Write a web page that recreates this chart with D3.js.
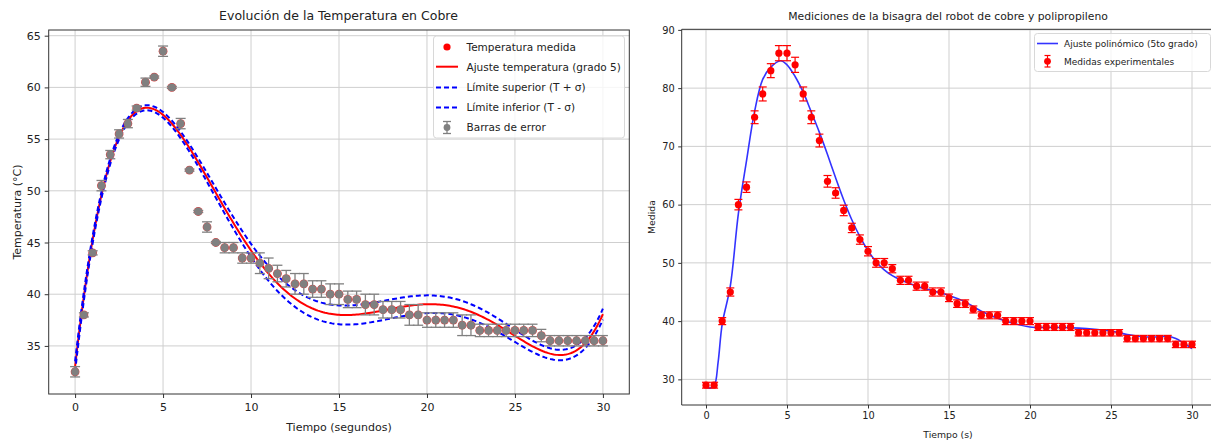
<!DOCTYPE html>
<html><head><meta charset="utf-8">
<script src="https://cdn.jsdelivr.net/npm/d3@7"></script>
<style>body{margin:0;background:#fff}svg{display:block}text{font-family:"DejaVu Sans",sans-serif;fill:#222}</style>
</head><body><svg id="c" width="1211" height="443"></svg>
<script>
// ---------- Left chart data ----------
const tempTime = [0,0.5,1,1.5,2,2.5,3,3.5,4,4.5,5,5.5,6,6.5,7,7.5,8,8.5,9,9.5,10,10.5,11,11.5,12,12.5,13,13.5,14,14.5,15,15.5,16,16.5,17,17.5,18,18.5,19,19.5,20,20.5,21,21.5,22,22.5,23,23.5,24,24.5,25,25.5,26,26.5,27,27.5,28,28.5,29,29.5,30];
const tempValues = [32.5,38,44,50.5,53.5,55.5,56.5,58,60.5,61,63.5,60,56.5,52,48,46.5,45,44.5,44.5,43.5,43.5,43,42.5,42,41.5,41,41,40.5,40.5,40,40,39.5,39.5,39,39,38.5,38.5,38.5,38,38,37.5,37.5,37.5,37.5,37,37,36.5,36.5,36.5,36.5,36.5,36.5,36.5,36,35.5,35.5,35.5,35.5,35.5,35.5,35.5];
const tempErrors = [0.5,0.2,0.2,0.5,0.4,0.4,0.4,0.2,0.4,0.1,0.5,0.1,0.5,0.1,0.1,0.5,0.1,0.5,0.5,0.5,0.5,1,1,0.8,0.8,1,1,0.8,0.8,1,1,0.8,0.8,1,1,0.8,0.8,0.8,1,1,0.7,0.7,0.7,0.7,1,1,0.6,0.6,0.6,0.6,0.6,0.6,0.6,0.6,0.5,0.5,0.5,0.5,0.5,0.5,0.5];
const leftXTicks = [0,5,10,15,20,25,30];
const leftYTicks = [35,40,45,50,55,60,65];

// ---------- Right chart data ----------
const hingeTime = [0,0.5,1,1.5,2,2.5,3,3.5,4,4.5,5,5.5,6,6.5,7,7.5,8,8.5,9,9.5,10,10.5,11,11.5,12,12.5,13,13.5,14,14.5,15,15.5,16,16.5,17,17.5,18,18.5,19,19.5,20,20.5,21,21.5,22,22.5,23,23.5,24,24.5,25,25.5,26,26.5,27,27.5,28,28.5,29,29.5,30];
const hingeValues = [29,29,40,45,60,63,75,79,83,86,86,84,79,75,71,64,62,59,56,54,52,50,50,49,47,47,46,46,45,45,44,43,43,42,41,41,41,40,40,40,40,39,39,39,39,39,38,38,38,38,38,38,37,37,37,37,37,37,36,36,36];
const hingeErrors = [0.5,0.5,0.6,0.7,0.9,0.9,1.1,1.2,1.2,1.3,1.3,1.3,1.2,1.1,1.1,1.0,0.9,0.9,0.8,0.8,0.8,0.75,0.75,0.7,0.7,0.7,0.7,0.7,0.7,0.7,0.65,0.65,0.65,0.6,0.6,0.6,0.6,0.6,0.6,0.6,0.6,0.6,0.6,0.6,0.6,0.6,0.55,0.55,0.55,0.55,0.55,0.55,0.55,0.55,0.55,0.55,0.55,0.55,0.55,0.55,0.55];
const hingeFitTime = [0,0.25,0.5,0.75,1,1.5,2,2.5,3,3.5,4,4.6,5,5.5,6,6.5,7,7.5,8,8.5,9,9.5,10,10.5,11,11.5,12,13,14,15,16,17,18,19,20,21,22,23,24,25,26,27,28,28.5,29,29.5,30];
const hingeFitValues = [28.7,28.5,28.8,33,39.5,46,58.5,67.5,76,81.5,83.6,84.7,84,82,79.3,75.9,72.4,68.6,64.6,60.8,57.4,54.5,52.1,50.2,48.8,47.8,47.1,46.0,45.2,44.4,43.3,41.7,40.5,39.6,39.0,38.9,38.9,38.8,38.6,38.3,37.7,37.3,37.3,37.4,37.0,36.2,35.3];
const rightXTicks = [0,5,10,15,20,25,30];
const rightYTicks = [30,40,50,60,70,80,90];

const svg = d3.select("#c");
const gridColor = "#cfcfcf", spineColor = "#333";

// polynomial least-squares fit (degree n) on scaled abscissa
function polyfit(xs, ys, n){
  const u = xs.map(x => (x-15)/15), m = n+1;
  const A = Array.from({length:m},()=>new Array(m).fill(0)), b = new Array(m).fill(0);
  u.forEach((ui,k)=>{ for(let i=0;i<m;i++){ b[i]+=Math.pow(ui,i)*ys[k]; for(let j=0;j<m;j++) A[i][j]+=Math.pow(ui,i+j);} });
  for(let c=0;c<m;c++){ let p=c; for(let r=c+1;r<m;r++) if(Math.abs(A[r][c])>Math.abs(A[p][c])) p=r;
    [A[c],A[p]]=[A[p],A[c]]; [b[c],b[p]]=[b[p],b[c]];
    for(let r=c+1;r<m;r++){ const f=A[r][c]/A[c][c]; for(let j=c;j<m;j++) A[r][j]-=f*A[c][j]; b[r]-=f*b[c]; } }
  const coef=new Array(m).fill(0);
  for(let i=m-1;i>=0;i--){ let s=b[i]; for(let j=i+1;j<m;j++) s-=A[i][j]*coef[j]; coef[i]=s/A[i][i]; }
  return x => { const v=(x-15)/15; return coef.reduce((s,c,i)=>s+c*Math.pow(v,i),0); };
}

// ================= LEFT CHART =================
(function(){
  const L=48.7, R=629.3, T=30, B=394;
  const x = d3.scaleLinear().domain([-1.5,31.5]).range([L,R]);
  const y = d3.scaleLinear().domain([30.35,65.55]).range([B,T]);
  const g = svg.append("g");
  g.selectAll(".gx").data(leftXTicks).join("line").attr("x1",d=>x(d)).attr("x2",d=>x(d)).attr("y1",T).attr("y2",B).attr("stroke",gridColor).attr("stroke-width",1);
  g.selectAll(".gy").data(leftYTicks).join("line").attr("x1",L).attr("x2",R).attr("y1",d=>y(d)).attr("y2",d=>y(d)).attr("stroke",gridColor).attr("stroke-width",1);
  const ax = g.append("g").attr("transform",`translate(0,${B})`).call(d3.axisBottom(x).tickValues(leftXTicks).tickSize(4).tickPadding(5));
  const ay = g.append("g").attr("transform",`translate(${L},0)`).call(d3.axisLeft(y).tickValues(leftYTicks).tickSize(4).tickPadding(4));
  [ax,ay].forEach(a=>{a.select(".domain").remove(); a.selectAll("line").attr("stroke",spineColor); a.selectAll("text").attr("font-size",11).attr("fill","#222").style("font-family","DejaVu Sans");});
  const fMid = polyfit(tempTime,tempValues,5);
  const fUp = polyfit(tempTime,tempValues.map((v,i)=>v+tempErrors[i]),5);
  const fLo = polyfit(tempTime,tempValues.map((v,i)=>v-tempErrors[i]),5);
  const ts = d3.range(0,30.001,0.1);
  const line = f => d3.line().x(t=>x(t)).y(t=>y(f(t)))(ts);
  g.append("path").attr("d",line(fMid)).attr("fill","none").attr("stroke","#ff0000").attr("stroke-width",2);
  g.append("path").attr("d",line(fUp)).attr("fill","none").attr("stroke","#0000ff").attr("stroke-width",2).attr("stroke-dasharray","5,3");
  g.append("path").attr("d",line(fLo)).attr("fill","none").attr("stroke","#0000ff").attr("stroke-width",2).attr("stroke-dasharray","5,3");
  const pts = tempTime.map((t,i)=>({t,v:tempValues[i],e:tempErrors[i]}));
  g.selectAll(".rp").data(pts).join("circle").attr("cx",d=>x(d.t)).attr("cy",d=>y(d.v)).attr("r",4.4).attr("fill","#e04040");
  const eb = g.append("g").attr("stroke","#808080").attr("stroke-width",1.3);
  eb.selectAll(".v").data(pts).join("line").attr("x1",d=>x(d.t)).attr("x2",d=>x(d.t)).attr("y1",d=>y(d.v-d.e)).attr("y2",d=>y(d.v+d.e));
  eb.selectAll(".c1").data(pts).join("line").attr("x1",d=>x(d.t)-5).attr("x2",d=>x(d.t)+5).attr("y1",d=>y(d.v+d.e)).attr("y2",d=>y(d.v+d.e));
  eb.selectAll(".c2").data(pts).join("line").attr("x1",d=>x(d.t)-5).attr("x2",d=>x(d.t)+5).attr("y1",d=>y(d.v-d.e)).attr("y2",d=>y(d.v-d.e));
  g.selectAll(".gp").data(pts).join("circle").attr("cx",d=>x(d.t)).attr("cy",d=>y(d.v)).attr("r",3.9).attr("fill","#808080");
  g.append("rect").attr("x",L).attr("y",T).attr("width",R-L).attr("height",B-T).attr("fill","none").attr("stroke",spineColor).attr("stroke-width",1);
  const lg = g.append("g");
  lg.append("rect").attr("x",433.5).attr("y",36).attr("width",191).attr("height",102).attr("rx",3).attr("fill","#fff").attr("fill-opacity",0.8).attr("stroke","#d8d8d8");
  const items = ["Temperatura medida","Ajuste temperatura (grado 5)","Límite superior (T + σ)","Límite inferior (T - σ)","Barras de error"];
  const ly = [47,66.7,87.5,107.5,127.5];
  items.forEach((s,i)=>lg.append("text").attr("x",466.5).attr("y",ly[i]+3.8).attr("font-size",10.5).text(s));
  lg.append("circle").attr("cx",447).attr("cy",ly[0]).attr("r",3.6).attr("fill","#ff0000");
  lg.append("line").attr("x1",436).attr("x2",458).attr("y1",ly[1]).attr("y2",ly[1]).attr("stroke","#ff0000").attr("stroke-width",2);
  [2,3].forEach(i=>lg.append("line").attr("x1",436).attr("x2",458).attr("y1",ly[i]).attr("y2",ly[i]).attr("stroke","#0000ff").attr("stroke-width",2).attr("stroke-dasharray","5,3"));
  const eg = lg.append("g").attr("stroke","#808080").attr("stroke-width",1.3);
  eg.append("line").attr("x1",447).attr("x2",447).attr("y1",ly[4]-6).attr("y2",ly[4]+6);
  eg.append("line").attr("x1",443).attr("x2",451).attr("y1",ly[4]-6).attr("y2",ly[4]-6);
  eg.append("line").attr("x1",443).attr("x2",451).attr("y1",ly[4]+6).attr("y2",ly[4]+6);
  lg.append("circle").attr("cx",447).attr("cy",ly[4]).attr("r",3.4).attr("fill","#808080");
  g.append("text").attr("x",338.5).attr("y",20).attr("text-anchor","middle").attr("font-size",12.5).text("Evolución de la Temperatura en Cobre");
  g.append("text").attr("x",339).attr("y",431).attr("text-anchor","middle").attr("font-size",11).text("Tiempo (segundos)");
  g.append("text").attr("transform","translate(21,212) rotate(-90)").attr("text-anchor","middle").attr("font-size",11).text("Temperatura (°C)");
})();

// ================= RIGHT CHART =================
(function(){
  const L=681.7, R=1216.3, T=29.3, B=405;
  const x = d3.scaleLinear().domain([-1.5,31.5]).range([L,R]);
  const y = d3.scaleLinear().domain([25.6,90.1]).range([B,T]);
  const g = svg.append("g");
  g.selectAll(".gx").data(rightXTicks).join("line").attr("x1",d=>x(d)).attr("x2",d=>x(d)).attr("y1",T).attr("y2",B).attr("stroke",gridColor).attr("stroke-width",1);
  g.selectAll(".gy").data(rightYTicks).join("line").attr("x1",L).attr("x2",R).attr("y1",d=>y(d)).attr("y2",d=>y(d)).attr("stroke",gridColor).attr("stroke-width",1);
  const ax = g.append("g").attr("transform",`translate(0,${B})`).call(d3.axisBottom(x).tickValues(rightXTicks).tickSize(3.5).tickPadding(4));
  const ay = g.append("g").attr("transform",`translate(${L},0)`).call(d3.axisLeft(y).tickValues(rightYTicks).tickSize(3.5).tickPadding(3.5));
  [ax,ay].forEach(a=>{a.select(".domain").remove(); a.selectAll("line").attr("stroke",spineColor); a.selectAll("text").attr("font-size",9.8).attr("fill","#222").style("font-family","DejaVu Sans");});
  const fitPts = hingeFitTime.map((t,i)=>[t,hingeFitValues[i]]);
  g.append("path").attr("d",d3.line().x(d=>x(d[0])).y(d=>y(d[1])).curve(d3.curveCatmullRom.alpha(0.5))(fitPts))
    .attr("fill","none").attr("stroke","#3333ff").attr("stroke-width",1.6);
  const pts = hingeTime.map((t,i)=>({t,v:hingeValues[i],e:hingeErrors[i]}));
  const eb = g.append("g").attr("stroke","#ff0000").attr("stroke-width",1.2);
  eb.selectAll(".v").data(pts).join("line").attr("x1",d=>x(d.t)).attr("x2",d=>x(d.t)).attr("y1",d=>y(d.v-d.e)).attr("y2",d=>y(d.v+d.e));
  eb.selectAll(".c1").data(pts).join("line").attr("x1",d=>x(d.t)-4).attr("x2",d=>x(d.t)+4).attr("y1",d=>y(d.v+d.e)).attr("y2",d=>y(d.v+d.e));
  eb.selectAll(".c2").data(pts).join("line").attr("x1",d=>x(d.t)-4).attr("x2",d=>x(d.t)+4).attr("y1",d=>y(d.v-d.e)).attr("y2",d=>y(d.v-d.e));
  g.selectAll(".p").data(pts).join("circle").attr("cx",d=>x(d.t)).attr("cy",d=>y(d.v)).attr("r",3.6).attr("fill","#ff0000");
  g.append("path").attr("d",`M${R},${T}H${L}V${B}H${R}`).attr("fill","none").attr("stroke",spineColor).attr("stroke-width",1);
  const lg = g.append("g");
  lg.append("rect").attr("x",1034.5).attr("y",33.5).attr("width",176).attr("height",38).attr("rx",3).attr("fill","#fff").attr("fill-opacity",0.8).attr("stroke","#d8d8d8");
  lg.append("line").attr("x1",1037).attr("x2",1058).attr("y1",43.5).attr("y2",43.5).attr("stroke","#3333ff").attr("stroke-width",1.6);
  lg.append("text").attr("x",1064).attr("y",47).attr("font-size",9).text("Ajuste polinómico (5to grado)");
  const le = lg.append("g").attr("stroke","#ff0000").attr("stroke-width",1.2);
  le.append("line").attr("x1",1047.5).attr("x2",1047.5).attr("y1",55.5).attr("y2",67);
  le.append("line").attr("x1",1044.5).attr("x2",1050.5).attr("y1",55.5).attr("y2",55.5);
  le.append("line").attr("x1",1044.5).attr("x2",1050.5).attr("y1",67).attr("y2",67);
  lg.append("circle").attr("cx",1047.5).attr("cy",61.3).attr("r",3.4).attr("fill","#ff0000");
  lg.append("text").attr("x",1064).attr("y",64.5).attr("font-size",9).text("Medidas experimentales");
  g.append("text").attr("x",948).attr("y",20).attr("text-anchor","middle").attr("font-size",10.8).text("Mediciones de la bisagra del robot de cobre y polipropileno");
  g.append("text").attr("x",948).attr("y",438).attr("text-anchor","middle").attr("font-size",9.3).text("Tiempo (s)");
  g.append("text").attr("transform","translate(655,217) rotate(-90)").attr("text-anchor","middle").attr("font-size",9.3).text("Medida");
})();
</script></body></html>
